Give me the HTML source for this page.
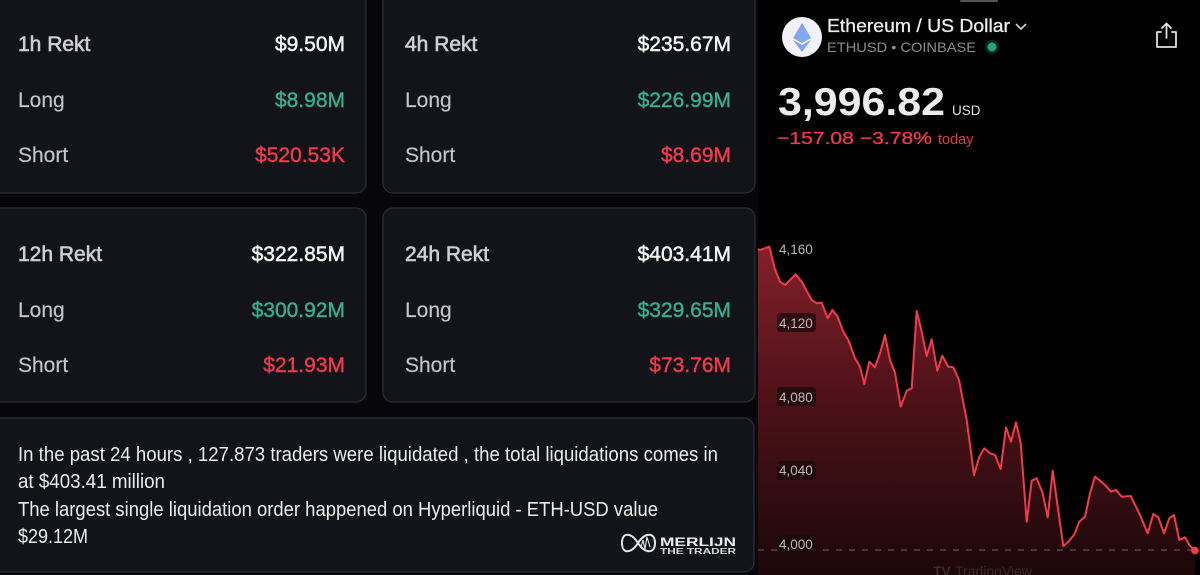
<!DOCTYPE html>
<html>
<head>
<meta charset="utf-8">
<style>
  html,body{margin:0;padding:0;background:#000;}
  body{width:1200px;height:575px;overflow:hidden;}
  svg{display:block;}
</style>
</head>
<body>
<svg width="1200" height="575" viewBox="0 0 1200 575" xmlns="http://www.w3.org/2000/svg">
  <defs>
    <linearGradient id="fillg" x1="0" y1="245" x2="0" y2="575" gradientUnits="userSpaceOnUse">
      <stop offset="0" stop-color="#85202b"/>
      <stop offset="0.45" stop-color="#4f1219"/>
      <stop offset="1" stop-color="#1c0709"/>
    </linearGradient>
    <linearGradient id="ethg" x1="0" y1="0" x2="1" y2="1">
      <stop offset="0" stop-color="#9a86f2"/>
      <stop offset="1" stop-color="#62c0ee"/>
    </linearGradient>
  </defs>

  <!-- Left panel background -->
  <rect x="0" y="0" width="758" height="575" fill="#07070b"/>

  <!-- Cards -->
  <g fill="#131419" stroke="#2c2d33" stroke-width="1.3">
    <rect x="-12" y="-12" width="378" height="205" rx="10"/>
    <rect x="383" y="-12" width="372" height="205" rx="10"/>
    <rect x="-12" y="208" width="378" height="194" rx="10"/>
    <rect x="383" y="208" width="372" height="194" rx="10"/>
    <rect x="-12" y="418" width="766" height="154" rx="10"/>
  </g>

  <!-- Card texts -->
  <g font-family="Liberation Sans, sans-serif" font-size="21">
    <!-- Card 1 -->
    <text x="18" y="51" fill="#cfcfd3" stroke="#cfcfd3" stroke-width="0.6">1h Rekt</text>
    <text x="345" y="51" text-anchor="end" fill="#f4f4f4" stroke="#f4f4f4" stroke-width="0.5">$9.50M</text>
    <text x="18" y="107" fill="#c4c4c9" stroke="#c4c4c9" stroke-width="0.15">Long</text>
    <text x="345" y="107" text-anchor="end" fill="#34b08e" stroke="#34b08e" stroke-width="0.4">$8.98M</text>
    <text x="18" y="162" fill="#c4c4c9" stroke="#c4c4c9" stroke-width="0.15">Short</text>
    <text x="345" y="162" text-anchor="end" fill="#f13a4c" stroke="#f13a4c" stroke-width="0.4">$520.53K</text>

    <!-- Card 2 -->
    <text x="405" y="51" fill="#cfcfd3" stroke="#cfcfd3" stroke-width="0.6">4h Rekt</text>
    <text x="731" y="51" text-anchor="end" fill="#f4f4f4" stroke="#f4f4f4" stroke-width="0.5">$235.67M</text>
    <text x="405" y="107" fill="#c4c4c9" stroke="#c4c4c9" stroke-width="0.15">Long</text>
    <text x="731" y="107" text-anchor="end" fill="#34b08e" stroke="#34b08e" stroke-width="0.4">$226.99M</text>
    <text x="405" y="162" fill="#c4c4c9" stroke="#c4c4c9" stroke-width="0.15">Short</text>
    <text x="731" y="162" text-anchor="end" fill="#f13a4c" stroke="#f13a4c" stroke-width="0.4">$8.69M</text>

    <!-- Card 3 -->
    <text x="18" y="261" fill="#cfcfd3" stroke="#cfcfd3" stroke-width="0.6">12h Rekt</text>
    <text x="345" y="261" text-anchor="end" fill="#f4f4f4" stroke="#f4f4f4" stroke-width="0.5">$322.85M</text>
    <text x="18" y="317" fill="#c4c4c9" stroke="#c4c4c9" stroke-width="0.15">Long</text>
    <text x="345" y="317" text-anchor="end" fill="#34b08e" stroke="#34b08e" stroke-width="0.4">$300.92M</text>
    <text x="18" y="372" fill="#c4c4c9" stroke="#c4c4c9" stroke-width="0.15">Short</text>
    <text x="345" y="372" text-anchor="end" fill="#f13a4c" stroke="#f13a4c" stroke-width="0.4">$21.93M</text>

    <!-- Card 4 -->
    <text x="405" y="261" fill="#cfcfd3" stroke="#cfcfd3" stroke-width="0.6">24h Rekt</text>
    <text x="731" y="261" text-anchor="end" fill="#f4f4f4" stroke="#f4f4f4" stroke-width="0.5">$403.41M</text>
    <text x="405" y="317" fill="#c4c4c9" stroke="#c4c4c9" stroke-width="0.15">Long</text>
    <text x="731" y="317" text-anchor="end" fill="#34b08e" stroke="#34b08e" stroke-width="0.4">$329.65M</text>
    <text x="405" y="372" fill="#c4c4c9" stroke="#c4c4c9" stroke-width="0.15">Short</text>
    <text x="731" y="372" text-anchor="end" fill="#f13a4c" stroke="#f13a4c" stroke-width="0.4">$73.76M</text>
  </g>

  <!-- Bottom box text -->
  <g font-family="Liberation Sans, sans-serif" font-size="20" fill="#ececec">
    <text x="18" y="461" textLength="700" lengthAdjust="spacingAndGlyphs">In the past 24 hours , 127.873 traders were liquidated , the total liquidations comes in</text>
    <text x="18" y="488" textLength="147" lengthAdjust="spacingAndGlyphs">at $403.41 million</text>
    <text x="18" y="516" textLength="640" lengthAdjust="spacingAndGlyphs">The largest single liquidation order happened on Hyperliquid - ETH-USD value</text>
    <text x="18" y="543" textLength="70" lengthAdjust="spacingAndGlyphs">$29.12M</text>
  </g>

  <!-- Merlijn logo -->
  <g stroke="#e6e6e6" stroke-width="2" fill="none">
    <path d="M638,543 C631,532 622,532 622,543 C622,554 631,554 638,543 C645,532 655,532 655,543 C655,554 645,554 638,543 Z"/>
    <path d="M641,547 L643,540 L645,549 L647,537 L650,547" stroke-width="1.1"/>
  </g>
  <text x="660" y="546" font-family="Liberation Sans, sans-serif" font-weight="bold" font-size="12" fill="#ececec" textLength="76" lengthAdjust="spacingAndGlyphs">MERLIJN</text>
  <text x="660" y="554" font-family="Liberation Sans, sans-serif" font-weight="bold" font-size="8" fill="#d8d8d8" textLength="76" lengthAdjust="spacingAndGlyphs">THE TRADER</text>

  <!-- Right panel -->
  <rect x="758" y="0" width="442" height="575" fill="#000"/>
  <rect x="960" y="0" width="38" height="2" rx="1" fill="#555"/>

  <!-- ETH logo -->
  <circle cx="802" cy="37" r="20" fill="#f1f1f6"/>
  <polygon points="802,23 793,38 802,43 811,38" fill="url(#ethg)" opacity="0.95"/>
  <polygon points="802,23 802,43 811,38" fill="#7fa6f0" opacity="0.6"/>
  <polygon points="793,40 802,45 811,40 802,52" fill="url(#ethg)"/>

  <text x="827" y="32" font-family="Liberation Sans, sans-serif" font-size="18" fill="#ececec" stroke="#ececec" stroke-width="0.3" textLength="183" lengthAdjust="spacingAndGlyphs">Ethereum / US Dollar</text>
  <path d="M1016,24 L1021,29 L1026,24" stroke="#d0d0d0" stroke-width="1.6" fill="none"/>
  <text x="827" y="52" font-family="Liberation Sans, sans-serif" font-size="14" fill="#8c8c90" textLength="149" lengthAdjust="spacingAndGlyphs">ETHUSD • COINBASE</text>
  <circle cx="992" cy="47" r="7" fill="#0b2a22"/>
  <circle cx="992" cy="47" r="4.5" fill="#22a37e"/>

  <!-- Share icon -->
  <g stroke="#e0e0e0" stroke-width="1.8" fill="none" stroke-linecap="round" stroke-linejoin="round">
    <path d="M1161,32 L1157,32 L1157,47 L1176,47 L1176,32 L1172,32"/>
    <path d="M1166.5,38 L1166.5,24"/>
    <path d="M1162,28 L1166.5,23.5 L1171,28"/>
  </g>

  <!-- Price -->
  <text x="778" y="115" font-family="Liberation Sans, sans-serif" font-weight="bold" font-size="39" fill="#ececec" textLength="167" lengthAdjust="spacingAndGlyphs">3,996.82</text>
  <text x="952" y="115" font-family="Liberation Sans, sans-serif" font-size="13.5" fill="#e0e0e0">USD</text>
  <text x="777" y="144" font-family="Liberation Sans, sans-serif" font-size="17.5" fill="#f03a4b" stroke="#f03a4b" stroke-width="0.3" textLength="155" lengthAdjust="spacingAndGlyphs">−157.08 −3.78%</text>
  <text x="938" y="144" font-family="Liberation Sans, sans-serif" font-size="14.5" fill="#e0394a">today</text>

  <!-- Chart fill -->
  <polygon fill="url(#fillg)" points="758,575 758,249 760,250 769.3,246.7 775,269.3 780,281.7 785,285 790,280 795.7,274.3 801.7,281.7 811.7,300 816.7,303.3 821.7,302.7 827.7,318.3 832.3,310 837.3,316 843.3,331.7 848.3,340 855,358.3 860,366.7 864.3,384 869.3,361.7 875,367.3 880,353.3 885,335 890,360 895,372.7 900.7,406.7 906.7,390.7 911.7,388.3 916.7,311 921.7,331.7 926.7,356 931.7,339.3 937.3,370.7 942.3,355.7 948.3,366.7 953.3,367.3 959,380 966.7,420 974,475 979.3,456.7 984.3,448.3 990,453.3 995,455 1000.7,469 1006,427.3 1011,441.7 1016,422.3 1020.7,443.3 1026.7,521.7 1031.7,480.7 1036.7,478.3 1042.7,493.3 1047.7,517.3 1052.7,470.7 1057.7,506.7 1063.3,546 1068.3,541.7 1074,535 1079.3,521.7 1085,516.7 1090,493.3 1095,476.7 1100,480.7 1105,485 1111,491.7 1116,490 1121.7,496.7 1130.7,496 1140,515 1147.7,533.3 1153.3,514 1158.3,517.3 1164,533.3 1169.3,518.3 1174,515 1179.3,540 1185,537.3 1189.3,545 1195,550.7 1195,575"/>

  <!-- Dashed last price line -->
  <line x1="758" y1="550" x2="1192" y2="550" stroke="#9a8a8c" stroke-width="1" stroke-dasharray="6,7" opacity="0.7"/>

  <!-- Chart line -->
  <polyline fill="none" stroke="#f23a4b" stroke-width="2" stroke-linejoin="round" points="758,249 760,250 769.3,246.7 775,269.3 780,281.7 785,285 790,280 795.7,274.3 801.7,281.7 811.7,300 816.7,303.3 821.7,302.7 827.7,318.3 832.3,310 837.3,316 843.3,331.7 848.3,340 855,358.3 860,366.7 864.3,384 869.3,361.7 875,367.3 880,353.3 885,335 890,360 895,372.7 900.7,406.7 906.7,390.7 911.7,388.3 916.7,311 921.7,331.7 926.7,356 931.7,339.3 937.3,370.7 942.3,355.7 948.3,366.7 953.3,367.3 959,380 966.7,420 974,475 979.3,456.7 984.3,448.3 990,453.3 995,455 1000.7,469 1006,427.3 1011,441.7 1016,422.3 1020.7,443.3 1026.7,521.7 1031.7,480.7 1036.7,478.3 1042.7,493.3 1047.7,517.3 1052.7,470.7 1057.7,506.7 1063.3,546 1068.3,541.7 1074,535 1079.3,521.7 1085,516.7 1090,493.3 1095,476.7 1100,480.7 1105,485 1111,491.7 1116,490 1121.7,496.7 1130.7,496 1140,515 1147.7,533.3 1153.3,514 1158.3,517.3 1164,533.3 1169.3,518.3 1174,515 1179.3,540 1185,537.3 1189.3,545 1195,550.7"/>
  <circle cx="1195" cy="550.5" r="3.8" fill="#f23a4b"/>

  <!-- Y-axis labels -->
  <g fill="#1a0a0c" opacity="0.75">
    <rect x="777" y="313" width="39" height="19" rx="3"/>
    <rect x="777" y="387" width="39" height="19" rx="3"/>
    <rect x="777" y="461" width="39" height="19" rx="3"/>
    <rect x="777" y="535" width="39" height="19" rx="3"/>
  </g>
  <g font-family="Liberation Sans, sans-serif" font-size="13.5" fill="#b8b8b8">
    <text x="779" y="254">4,160</text>
    <text x="779" y="328">4,120</text>
    <text x="779" y="402">4,080</text>
    <text x="779" y="475">4,040</text>
    <text x="779" y="549">4,000</text>
  </g>

  <!-- TradingView watermark -->
  <text x="933" y="576" font-family="Liberation Sans, sans-serif" font-weight="bold" font-size="14" fill="#3a2a2c">TV</text>
  <text x="955" y="576" font-family="Liberation Sans, sans-serif" font-size="14" fill="#3a2a2c">TradingView</text>
</svg>
</body>
</html>
